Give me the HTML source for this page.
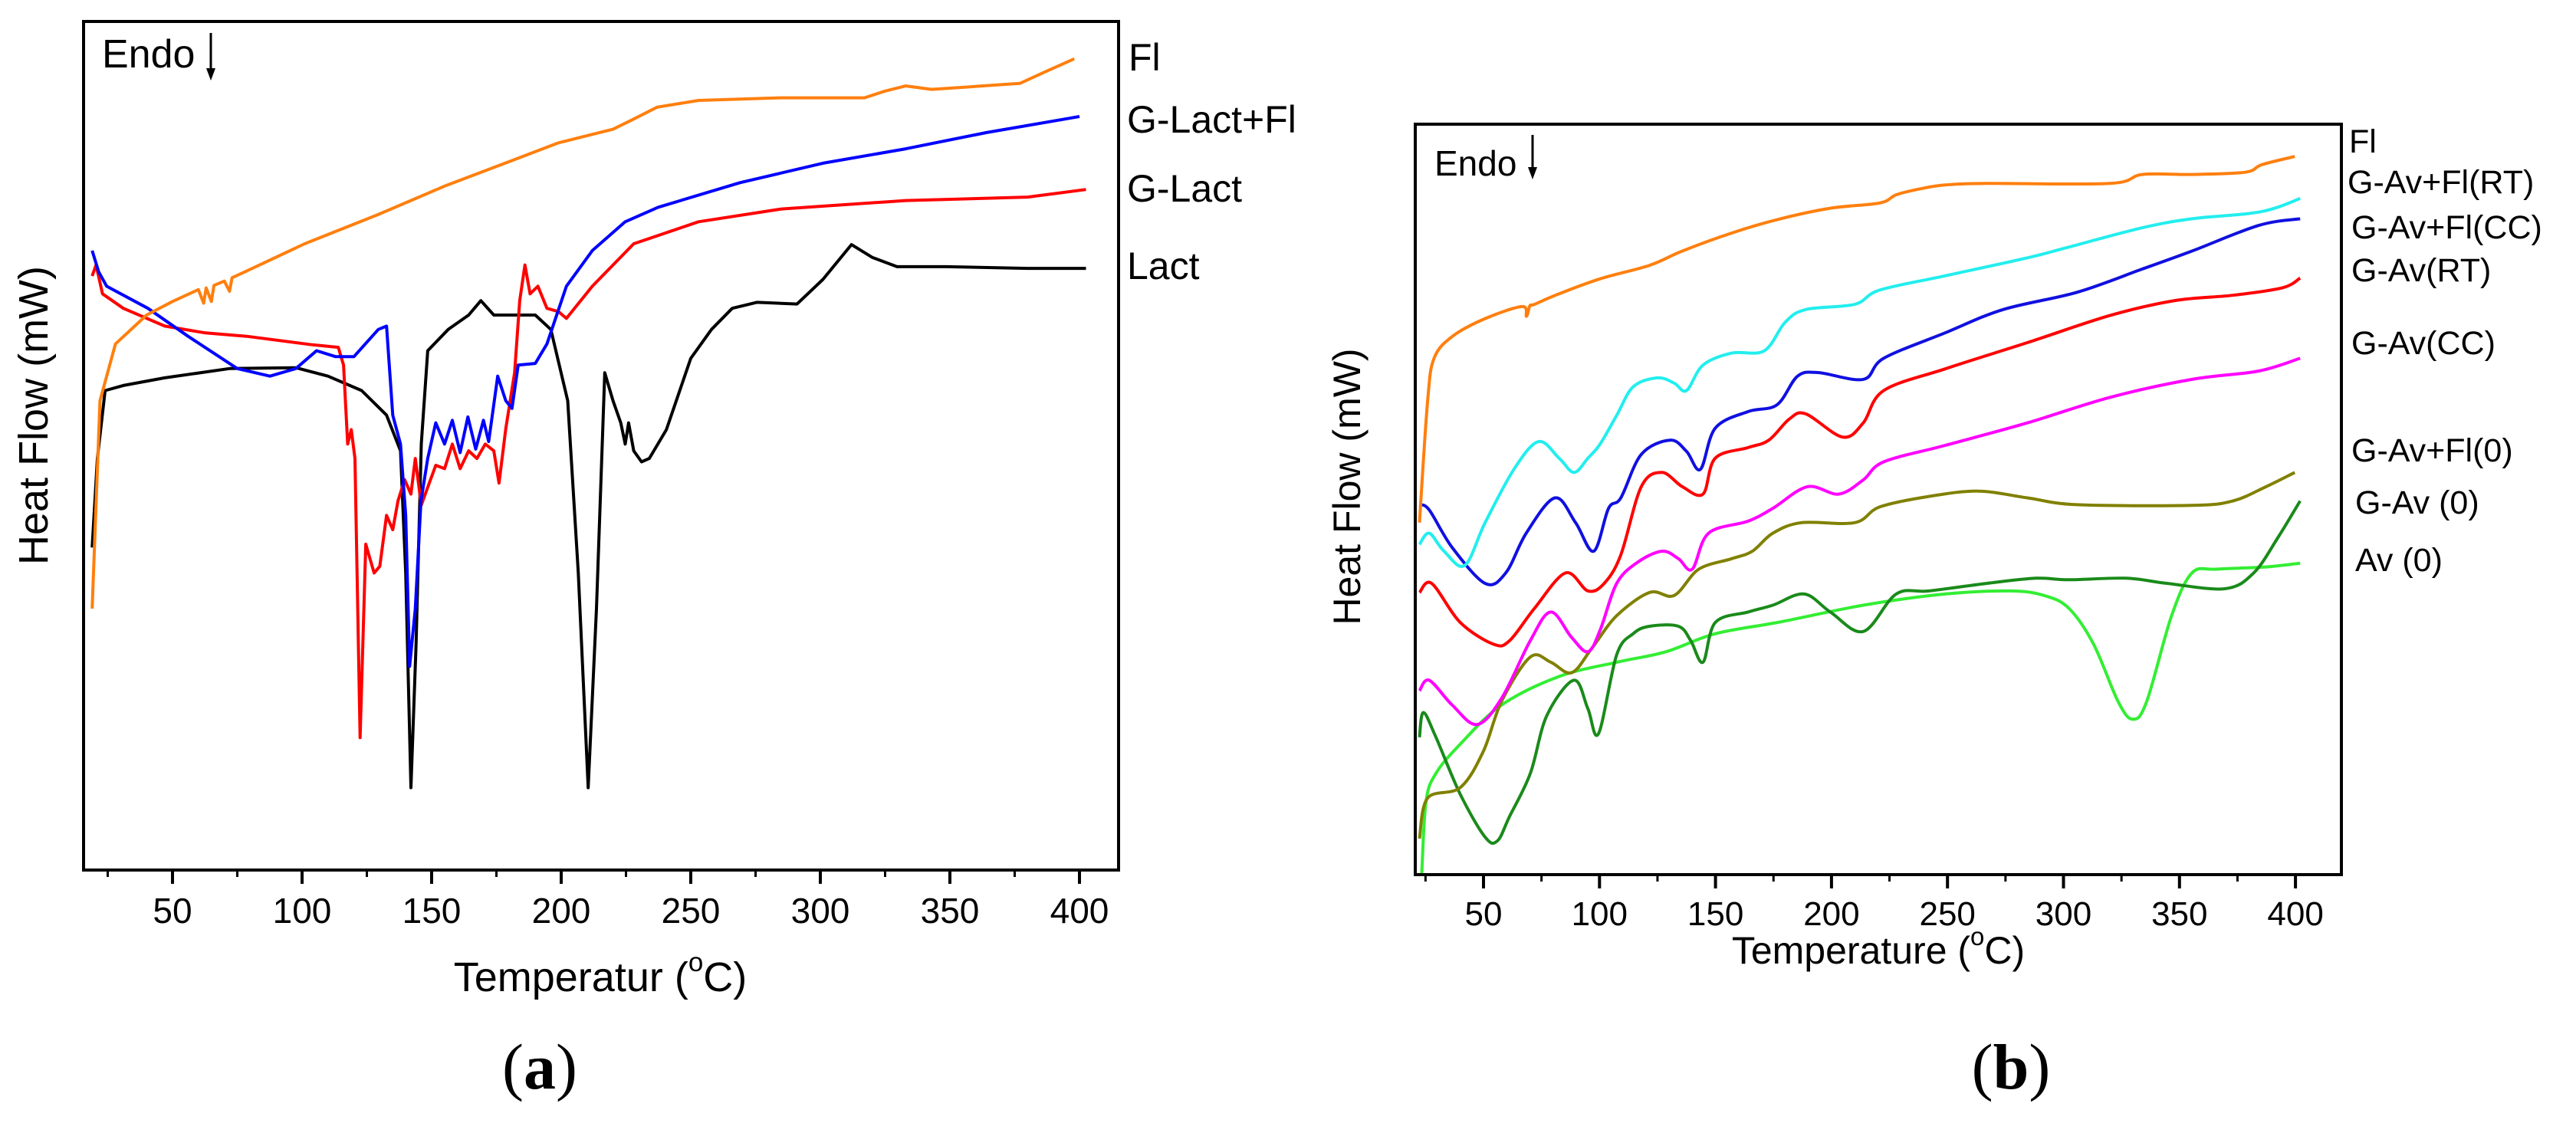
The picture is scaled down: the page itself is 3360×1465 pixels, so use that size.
<!DOCTYPE html>
<html><head><meta charset="utf-8">
<style>
html,body{margin:0;padding:0;background:#fff;}
svg{display:block;}
text{font-family:"Liberation Sans",sans-serif;fill:#000;}
</style></head>
<body>
<svg id="fig" width="3360" height="1465" viewBox="0 0 3360 1465" xmlns="http://www.w3.org/2000/svg">
<rect width="3360" height="1465" fill="#fff"/>
<g id="pa"></g>
<g id="pb"></g>
</svg>
<script>
// ---------- Panel (a) data ----------
const aTicks = [50,100,150,200,250,300,350,400];
const aMinor = [25,75,125,175,225,275,325,375];
const aFlT = [19,22,28,40,50,60,62,63,65,66,70,72,73,78,101,129,155,180,199,220,228,237,253,285,317,325,333,343,377,387,398];
const aFlV = [30.8,55.3,62,65.4,67,68.4,66.8,68.6,67,68.9,69.4,68.2,69.8,70.5,73.8,77.2,80.6,83.5,85.7,87.3,88.5,89.9,90.7,91.0,91.0,91.8,92.4,92.0,92.7,94.1,95.6];
const aGLFT = [19,21.5,24.6,40.5,56,75,87.6,97.6,105.6,113,120,129.4,132.6,135,138,140,141.5,143.7,145.9,148.5,151.6,155,158,161,164,167,170,172,175.5,178.6,181,183.4,190,194.5,202,212,224.7,237.4,269,301,333,364,400];
const aGLFV = [73,70.5,68.8,66.2,62.9,59.1,58.2,59.1,61.2,60.5,60.5,63.7,64.1,53.6,50.2,41.8,24,30.8,43.5,48.5,52.7,50.2,53,49.2,53.4,49.6,53,50.5,58.2,55.3,54.4,59.5,59.7,62,68.8,73,76.4,78.1,81,83.3,85,86.9,88.8];
const aGLT = [19,20.5,23,31,47,62.7,78.6,104,114,116,117.6,119,120.4,122.4,124.6,127.8,130,132.6,135,137,139.6,142,143.7,146,148.5,151.6,155,158,161,164.3,167.5,170.7,174,176,178.6,182,184,186,188,191,194.5,199,202,212,228,253,285,333,380,402.5];
const aGLV = [70,71.3,67.9,66.2,64.1,63.3,62.9,61.9,61.6,59.5,50.2,51.9,48.5,15.6,38.4,35,35.8,41.8,40.1,43.5,46,44.3,48.5,43,45.1,47.7,47.3,50.2,47.3,49.4,48.5,50.2,49.4,45.6,52,58.6,67.1,71.3,67.9,68.8,66.2,65.8,65,68.8,73.8,76.4,77.9,78.9,79.3,80.2];
const aLaT = [19,21,24,31,47,72,97.6,110,123,132.6,138,140,142,144,146,148.5,156.4,164.3,169,174,190,196,202.5,206.6,210.4,213.6,216.8,220,223,224.7,226,228,231,234,240.6,250,258,266,275.5,291,301,312,320,329.6,348.5,380,402.5];
const aLaV = [38,48.5,56.5,57.1,58,59.1,59.2,58.2,56.5,53.6,49.4,35,9.7,26.6,50.2,61.2,63.7,65.4,67.1,65.4,65.4,63.7,55.3,35,9.7,30.8,58.6,55.3,52.7,50.2,52.7,49.4,48.1,48.5,51.9,60.3,63.7,66.2,66.9,66.7,69.6,73.7,72.2,71.1,71.1,70.9,70.9];

// ---------- Panel (b) data ----------
const bTicks = [50,100,150,200,250,300,350,400];
const bMinor = [25,75,125,175,225,275,325,375];
const bFlT = [22.4,25.9,28.7,36.5,50.7,66.7,68.5,70,72,82.6,100.3,121.6,135.7,157,178,199.5,220.8,228,238.5,249,266.8,320,334,355.4,378.4,385.5,399.7];
const bFlV = [46.9,63.1,68.8,71.7,74.1,75.7,74.4,75.8,76,77.4,79.4,81.2,83.1,85.5,87.4,88.8,89.5,90.6,91.4,91.9,92.1,92.1,93.3,93.3,93.6,94.6,95.7];
const bRTflT = [22.4,26.6,33,41.9,50.7,63.1,73.7,82.6,89,95,100.3,107.4,114.5,125,132.2,137.5,144.6,157,171,180,188.9,210,220.8,249,284.5,302,334,355.4,380,391,402];
const bRTflV = [44,45.5,43.1,41.2,46.9,54,57.7,55.5,53.6,55.5,57.4,61.2,65,66.2,65.5,64.5,67.9,69.5,69.8,73.6,75.3,76,77.9,79.8,82.2,83.6,86.2,87.4,88.1,88.8,90.1];
const bCCflT = [22.4,26.6,36.5,50.7,59.6,68.4,80.8,89.7,97.5,103.9,109.2,118,130.4,137.5,143.5,149.9,164,176.5,185.3,194.2,213.7,222.5,249,274,305.8,334,355.4,384,402];
const bCCflV = [49.3,48.6,43.6,38.8,40.2,45.5,50.2,46.9,43.1,48.8,50.2,56,57.9,56.4,54,59.5,61.7,62.6,66.4,66.9,66,68.8,72.2,75.3,77.6,80.7,83.1,86.5,87.4];
const bRTT = [22.4,27.7,40,54.3,61.3,72,85.4,95,102,109.2,118,126.9,135.7,144.6,149.9,164,173,181.8,188.9,204.8,213.7,222.5,249,284.5,320,348,373,394.4,402];
const bRTV = [37.6,38.8,33.6,30.7,31.2,35.5,40.2,37.8,38.8,42.6,51.7,53.6,51.7,50.7,55.5,56.9,57.9,60.7,61.4,58.3,60.2,64.5,67.4,70.9,74.5,76.5,77.2,78.2,79.5];
const bCCT = [22.4,26.6,36.5,47.2,57.8,70.2,79,88,95,100.3,107.4,116.3,126.9,134,140,147,164,174.7,189.6,203,213.7,222.5,249,284.5,320,355.4,384,402];
const bCCV = [24.5,25.9,22.6,20,23.5,31.2,35,31.6,29.7,32.6,38.8,41.6,43.1,42.1,40.7,45.5,47.1,48.8,51.7,50.7,52.6,55,57.2,60.2,63.6,66,67.1,68.8];
const bFl0T = [22.4,25.9,40,49.9,57.8,70.2,79,88,96.8,107.4,121.6,132.2,142.8,157,165.9,174.7,187.1,210,220.8,242,263.4,284.5,305.8,355.4,373,387.3,399.7];
const bFl0V = [4.8,10.2,11.6,16.4,23.1,29,28.3,26.9,30.2,34.5,37.6,37.2,40.7,42.1,43.1,45.5,46.9,46.9,49,50.4,51.1,50.2,49.3,49.2,49.8,51.7,53.6];
const bAv0GT = [22.4,24.1,29.5,40,50.7,56,61.3,70.2,77.3,89,95,99.6,107.4,114.5,121.6,134,139.3,144.6,149.9,164,174.7,188.2,199.5,213.7,227.9,242,266.8,288,302,327,344.8,369.6,382,392.6,402];
const bAv0GV = [18.3,21.6,18.3,10.7,5,4.5,7.8,13.5,21.2,25.9,22.1,18.8,29.3,32.1,33.1,33.1,31.2,28.3,33.6,35,35.9,37.4,35,32.4,37.4,37.8,38.8,39.5,39.3,39.5,38.8,38.1,40.2,45,49.8];
const bAvT = [23.4,25.2,29.5,40,57.8,82.6,107.4,128.7,149.9,178.3,213.7,249,277.4,291.6,302.3,313,323.5,329.9,335.9,346.6,355.4,366,387.3,402];
const bAvV = [0.2,9.7,13.5,17.4,22.6,26.4,28.3,29.7,32.1,33.7,35.9,37.4,37.8,37.2,35.5,30.7,23.1,20.7,23.1,34.5,40.2,40.7,41,41.5];

const NS = 'http://www.w3.org/2000/svg';
function mk(parent, tag, attrs){
  const e = document.createElementNS(NS, tag);
  for (const k in attrs) e.setAttribute(k, attrs[k]);
  parent.appendChild(e);
  return e;
}

function pathD(pts, smooth){
  if (!smooth) return pts.map((p,i)=>(i?'L':'M')+p[0].toFixed(1)+','+p[1].toFixed(1)).join('');
  let d = 'M'+pts[0][0].toFixed(1)+','+pts[0][1].toFixed(1);
  for (let i=0;i<pts.length-1;i++){
    const p0=pts[Math.max(0,i-1)], p1=pts[i], p2=pts[i+1], p3=pts[Math.min(pts.length-1,i+2)];
    const c1=[p1[0]+(p2[0]-p0[0])/6, p1[1]+(p2[1]-p0[1])/6];
    const c2=[p2[0]-(p3[0]-p1[0])/6, p2[1]-(p3[1]-p1[1])/6];
    d+='C'+c1[0].toFixed(1)+','+c1[1].toFixed(1)+' '+c2[0].toFixed(1)+','+c2[1].toFixed(1)+' '+p2[0].toFixed(1)+','+p2[1].toFixed(1);
  }
  return d;
}

function panel(g, cfg){
  const xs = T => cfg.x50 + (T - 50) * cfg.pxPer50 / 50;
  const ys = v => cfg.bottom - v / 100 * (cfg.bottom - cfg.top);
  cfg.series.forEach(s => {
    const pts = s.t.map((t,i)=>[xs(t), ys(s.v[i])]);
    const p = mk(g, 'path', {d: pathD(pts, cfg.smooth), fill: 'none', stroke: s.color, 'stroke-width': 4, 'stroke-linejoin': 'round'});
    
    
  });
  const fr = mk(g, 'rect', {x: cfg.left, y: cfg.top, width: cfg.right - cfg.left, height: cfg.bottom - cfg.top, fill: 'none', stroke: '#000', 'stroke-width': 4});
  
  
  cfg.ticks.forEach(t => {
    const l = mk(g, 'line', {x1: xs(t), x2: xs(t), y1: cfg.bottom, y2: cfg.bottom + 18, stroke: '#000', 'stroke-width': 4});
    
    
    const tx = mk(g, 'text', {x: xs(t), y: cfg.tickY, 'text-anchor': 'middle', 'font-size': cfg.tickFont});
    tx.textContent = t;
    
    
  });
  cfg.minor.forEach(t => {
    const l = mk(g, 'line', {x1: xs(t), x2: xs(t), y1: cfg.bottom, y2: cfg.bottom + 9, stroke: '#000', 'stroke-width': 3});
    
    
  });
  cfg.labels.forEach(lb => {
    const tx = mk(g, 'text', {x: lb[1], y: lb[2], 'font-size': cfg.labelFont, 'dominant-baseline': 'central'});
    tx.textContent = lb[0];
    
    
  });
  const xt = mk(g, 'text', {x: cfg.xTitle[0], y: cfg.xTitle[1], 'text-anchor': 'middle', 'font-size': cfg.titleFont, 'dominant-baseline': 'central'});
  xt.innerHTML = cfg.xTitleText + ' (<tspan baseline-shift="super" font-size="' + Math.round(cfg.titleFont*0.65) + '">o</tspan>C)';
  
  
  const yt = mk(g, 'text', {x: 0, y: 0, 'text-anchor': 'middle', 'font-size': cfg.titleFont, 'dominant-baseline': 'central', transform: 'translate(' + cfg.yTitle[0] + ',' + cfg.yTitle[1] + ') rotate(-90)'});
  yt.textContent = 'Heat Flow (mW)';
  
  
  const en = mk(g, 'text', {x: cfg.endo[0], y: cfg.endo[1], 'font-size': cfg.endoFont});
  en.textContent = 'Endo';
  
  
  const ar = mk(g, 'line', {x1: cfg.arrow[0], x2: cfg.arrow[0], y1: cfg.arrow[1], y2: cfg.arrow[2] - 14, stroke: '#000', 'stroke-width': 3});
  
  
  const ah = mk(g, 'polygon', {points: (cfg.arrow[0]-6)+','+(cfg.arrow[2]-16)+' '+(cfg.arrow[0]+6)+','+(cfg.arrow[2]-16)+' '+cfg.arrow[0]+','+cfg.arrow[2], fill: '#000'});
  
  
  const pl = mk(g, 'text', {x: cfg.letter[0], y: cfg.letter[1], 'text-anchor': 'middle', 'font-size': 84, 'dominant-baseline': 'central', style: 'font-family:"Liberation Serif",serif'});
  pl.innerHTML = '(<tspan font-weight="bold">' + cfg.letter[2] + '</tspan>)';
  
  
}

panel(document.getElementById('pa'), {
  left: 109, right: 1459, top: 28, bottom: 1135, x50: 225, pxPer50: 169, smooth: false,
  ticks: aTicks, minor: aMinor, tickY: 1204, tickFont: 46,
  series: [
    {name: 'series-lact', color: '#000000', t: aLaT, v: aLaV},
    {name: 'series-g-lact', color: '#ff0000', t: aGLT, v: aGLV},
    {name: 'series-g-lact-fl', color: '#0000ff', t: aGLFT, v: aGLFV},
    {name: 'series-fl', color: '#ff7f0e', t: aFlT, v: aFlV}
  ],
  labels: [['Fl',1472,75],['G-Lact+Fl',1470,156],['G-Lact',1470,246],['Lact',1470,347]],
  labelFont: 50, titleFont: 54,
  xTitle: [783, 1275], xTitleText: 'Temperatur', yTitle: [44, 542],
  endo: [133, 88], endoFont: 52, arrow: [275, 43, 105],
  letter: [704, 1392, 'a']
});

panel(document.getElementById('pb'), {
  left: 1846, right: 3054, top: 162, bottom: 1141, x50: 1935, pxPer50: 151.3, smooth: true,
  ticks: bTicks, minor: bMinor, tickY: 1207, tickFont: 44,
  series: [
    {name: 'series-av-0', color: '#33ee33', t: bAvT, v: bAvV},
    {name: 'series-g-av-0', color: '#1a8a1a', t: bAv0GT, v: bAv0GV},
    {name: 'series-g-av-fl-0', color: '#808000', t: bFl0T, v: bFl0V},
    {name: 'series-g-av-cc', color: '#ff00ff', t: bCCT, v: bCCV},
    {name: 'series-g-av-rt', color: '#ff0000', t: bRTT, v: bRTV},
    {name: 'series-g-av-fl-cc', color: '#1010e0', t: bCCflT, v: bCCflV},
    {name: 'series-g-av-fl-rt', color: '#22eeee', t: bRTflT, v: bRTflV},
    {name: 'series-fl-b', color: '#ff7f0e', t: bFlT, v: bFlV}
  ],
  labels: [['Fl',3064,185],['G-Av+Fl(RT)',3062,238],['G-Av+Fl(CC)',3067,297],['G-Av(RT)',3067,353],['G-Av(CC)',3067,448],['G-Av+Fl(0)',3067,588],['G-Av (0)',3072,656],['Av (0)',3072,731]],
  labelFont: 43, titleFont: 50,
  xTitle: [2450, 1240], xTitleText: 'Temperature', yTitle: [1757, 635],
  endo: [1871, 229], endoFont: 46, arrow: [1999, 176, 234],
  letter: [2623, 1392, 'b']
});
</script>
</body></html>
